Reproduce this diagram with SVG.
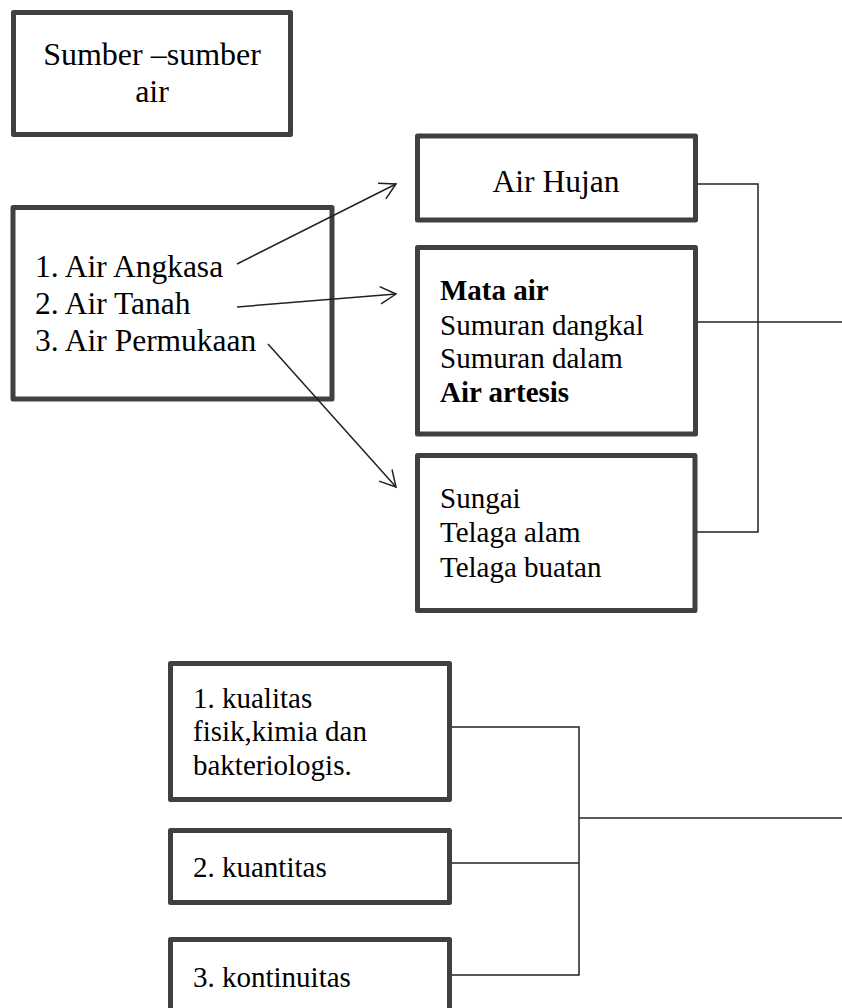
<svg xmlns="http://www.w3.org/2000/svg" width="842" height="1008" viewBox="0 0 842 1008">
<style>
.box{fill:#fff;stroke:#404040;stroke-width:5;stroke-linejoin:round}
.t{font-family:'Liberation Serif','Times New Roman',serif;font-size:29px;fill:#000}
.l{font-size:31.5px}
.xl{font-size:32px}
.b{font-weight:bold}
.c{fill:none;stroke:#222;stroke-width:1.5}
</style>
<defs>
<marker id="ah" viewBox="-1 -1 19 20" refX="16" refY="9" markerWidth="19" markerHeight="20" markerUnits="userSpaceOnUse" orient="auto">
<path d="M0.3,0.3 L16,9 L0.3,17.7" fill="none" stroke="#222" stroke-width="1.5"/>
</marker>
</defs>
<rect width="842" height="1008" fill="#fff"/>
<g id="n-sumber">
<rect class="box" x="13.5" y="12.5" width="277" height="122"/>
<text class="t xl" x="152" y="65" text-anchor="middle">Sumber –sumber</text>
<text class="t xl" x="152" y="102" text-anchor="middle">air</text>
</g>
<g id="n-jenis">
<rect class="box" x="13" y="207.5" width="319" height="191.5"/>
<text class="t l" x="35" y="277">1. Air Angkasa</text>
<text class="t l" x="35" y="314">2. Air Tanah</text>
<text class="t l" x="35" y="351">3. Air Permukaan</text>
</g>
<g id="n-hujan">
<rect class="box" x="417.5" y="136" width="278" height="84"/>
<text class="t l" x="556" y="192" text-anchor="middle">Air Hujan</text>
</g>
<g id="n-tanah">
<rect class="box" x="417.5" y="247.5" width="278" height="186.5"/>
<text class="t b" x="440" y="300">Mata air</text>
<text class="t" x="440" y="335">Sumuran dangkal</text>
<text class="t" x="440" y="368">Sumuran dalam</text>
<text class="t b" x="440" y="402">Air artesis</text>
</g>
<g id="n-permukaan">
<rect class="box" x="417.5" y="455.5" width="277.5" height="155"/>
<text class="t" x="440" y="508">Sungai</text>
<text class="t" x="440" y="542">Telaga alam</text>
<text class="t" x="440" y="577">Telaga buatan</text>
</g>
<g id="n-kualitas">
<rect class="box" x="170.5" y="663.5" width="279" height="136"/>
<text class="t" x="193" y="708">1. kualitas</text>
<text class="t" x="193" y="741">fisik,kimia dan</text>
<text class="t" x="193" y="775">bakteriologis.</text>
</g>
<g id="n-kuantitas">
<rect class="box" x="170.5" y="830.5" width="279" height="72"/>
<text class="t" x="193" y="877">2. kuantitas</text>
</g>
<g id="n-kontinuitas">
<rect class="box" x="170.5" y="939.5" width="279" height="80"/>
<text class="t" x="193" y="987">3. kontinuitas</text>
</g>
<g id="connectors">
<line class="c" x1="237" y1="264" x2="396" y2="184" marker-end="url(#ah)"/>
<line class="c" x1="237" y1="307" x2="396" y2="294" marker-end="url(#ah)"/>
<line class="c" x1="268" y1="344" x2="396" y2="487" marker-end="url(#ah)"/>
<polyline class="c" points="698,184 758,184 758,532 697,532"/>
<line class="c" x1="698" y1="322" x2="842" y2="322"/>
<polyline class="c" points="452,727 579,727 579,975 452,975"/>
<line class="c" x1="452" y1="863" x2="579" y2="863"/>
<line class="c" x1="579" y1="818" x2="842" y2="818"/>
</g>
</svg>
